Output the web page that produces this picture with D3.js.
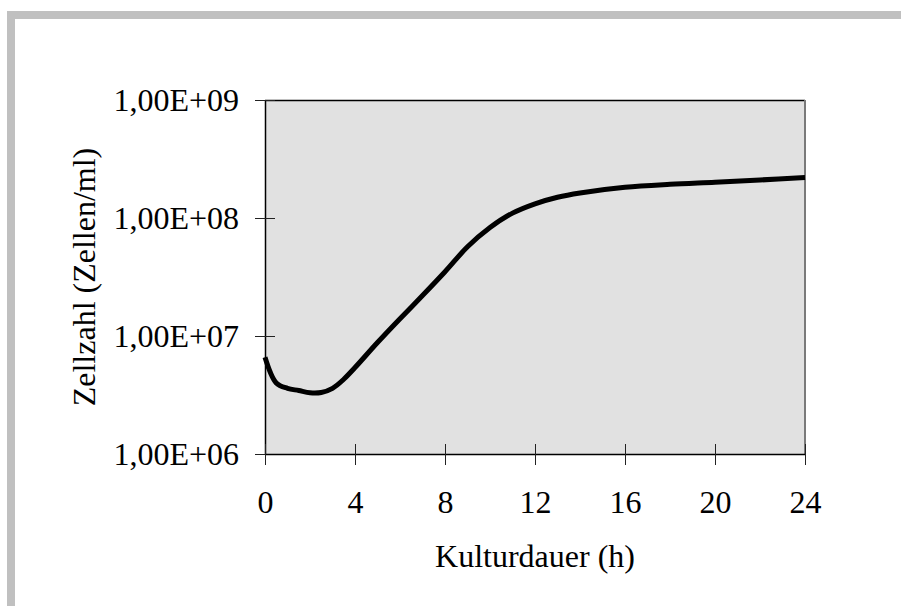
<!DOCTYPE html>
<html>
<head>
<meta charset="utf-8">
<script src="https://cdn.jsdelivr.net/npm/d3@7"></script>
<style>
  html, body { margin: 0; padding: 0; background: #ffffff; }
  svg { display: block; }
  text { font-family: "Liberation Serif", "Times New Roman", serif; fill: #000; }
</style>
</head>
<body>
<svg id="chart" width="901" height="606"></svg>
<script>
// Culture time (h) and cell count (cells/ml)
const hours = [0, 0.5, 1, 1.5, 2, 2.5, 3, 3.5, 4, 5, 6, 7, 8, 9, 10, 11, 12, 13, 14, 16, 18, 20, 22, 24];
const cells = [6.6e6, 4.0e6, 3.6e6, 3.45e6, 3.3e6, 3.32e6, 3.6e6, 4.3e6, 5.4e6, 8.8e6, 1.4e7, 2.2e7,
               3.5e7, 5.7e7, 8.3e7, 1.1e8, 1.32e8, 1.5e8, 1.63e8, 1.82e8, 1.93e8, 2.01e8, 2.1e8, 2.2e8];

const xTicks = [0, 4, 8, 12, 16, 20, 24];
const yTicks = [1e6, 1e7, 1e8, 1e9];
const yTickLabels = ["1,00E+06", "1,00E+07", "1,00E+08", "1,00E+09"];

const xTitle = "Kulturdauer (h)";
const yTitle = "Zellzahl (Zellen/ml)";

const svg = d3.select("#chart");
const plot = { left: 265, right: 805, top: 100, bottom: 454 };

const x = d3.scaleLinear().domain([0, 24]).range([plot.left, plot.right]);
const y = d3.scaleLog().domain([1e6, 1e9]).range([plot.bottom, plot.top]);

// outer frame: grey band along top and left
svg.append("rect").attr("x", 7).attr("y", 11).attr("width", 894).attr("height", 8).attr("fill", "#c0c0c0");
svg.append("rect").attr("x", 7).attr("y", 11).attr("width", 8).attr("height", 595).attr("fill", "#c0c0c0");

// plot area
svg.append("rect")
  .attr("x", plot.left).attr("y", plot.top)
  .attr("width", plot.right - plot.left).attr("height", plot.bottom - plot.top)
  .attr("fill", "#e1e1e1");
svg.append("line")
  .attr("x1", plot.left).attr("x2", plot.right)
  .attr("y1", plot.top + 0.5).attr("y2", plot.top + 0.5)
  .attr("stroke", "#000").attr("stroke-width", 1.5);
svg.append("line")
  .attr("x1", plot.right).attr("x2", plot.right)
  .attr("y1", plot.top).attr("y2", plot.bottom)
  .attr("stroke", "#7a7a7a").attr("stroke-width", 2);

const fontSize = 32;

// y axis (log, ticks cross the axis line)
const yAxis = svg.append("g")
  .attr("transform", `translate(${plot.left},0)`)
  .call(d3.axisLeft(y).tickValues(yTicks)
    .tickFormat((d, i) => yTickLabels[i]).tickSizeOuter(0).tickPadding(20));
yAxis.select(".domain").attr("stroke", "#000").attr("stroke-width", 1.5);
yAxis.selectAll(".tick line").attr("x1", -10).attr("x2", 10).attr("stroke", "#222");
yAxis.selectAll(".tick text")
  .style("font-family", "'Liberation Serif', serif").style("font-size", fontSize + "px")
  .attr("fill", "#000").attr("dy", "0.34em");

// x axis (ticks cross the axis line)
const xAxis = svg.append("g")
  .attr("transform", `translate(0,${plot.bottom})`)
  .call(d3.axisBottom(x).tickValues(xTicks).tickSizeOuter(0).tickPadding(0));
xAxis.select(".domain").attr("stroke", "#000").attr("stroke-width", 1.5);
xAxis.selectAll(".tick line").attr("y1", -10).attr("y2", 11).attr("stroke", "#222");
xAxis.selectAll(".tick text")
  .style("font-family", "'Liberation Serif', serif").style("font-size", fontSize + "px")
  .attr("fill", "#000").attr("y", 59).attr("dy", 0);

// growth curve
const line = d3.line()
  .x((d, i) => x(hours[i]))
  .y(d => y(d))
  .curve(d3.curveCatmullRom.alpha(0.5));
svg.append("path")
  .datum(cells)
  .attr("d", line)
  .attr("fill", "none")
  .attr("stroke", "#000")
  .attr("stroke-width", 5)
  .attr("stroke-linejoin", "round");

// axis titles
svg.append("text")
  .attr("x", (plot.left + plot.right) / 2).attr("y", 567)
  .attr("text-anchor", "middle")
  .style("font-size", fontSize + "px")
  .text(xTitle);
svg.append("text")
  .attr("transform", `translate(95,${(plot.top + plot.bottom) / 2}) rotate(-90)`)
  .attr("text-anchor", "middle")
  .style("font-size", fontSize + "px")
  .text(yTitle);
</script>
</body>
</html>
